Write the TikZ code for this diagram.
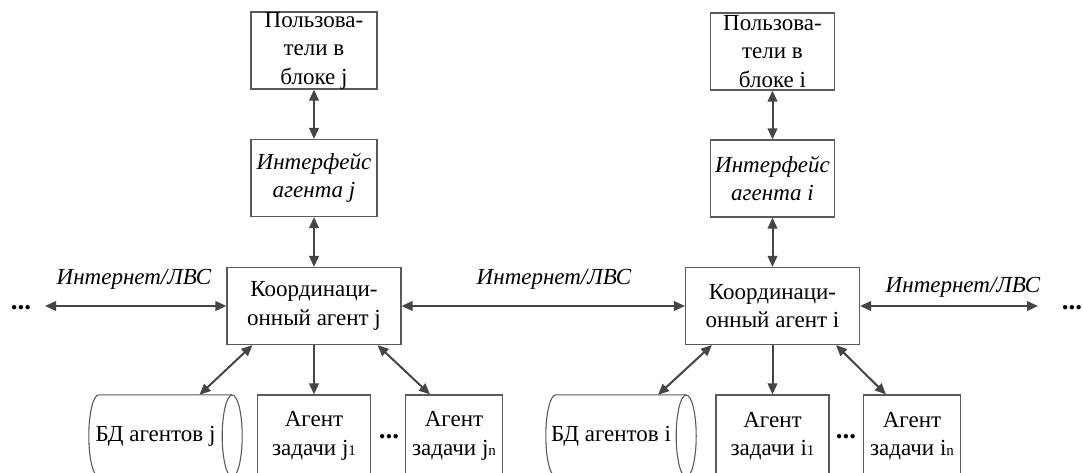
\documentclass[tikz,border=0pt]{standalone}
\usepackage{fontspec}
\setmainfont{Liberation Serif}
\usetikzlibrary{arrows.meta}
\definecolor{ln}{HTML}{454545}
\definecolor{bx}{HTML}{5A5A5A}
\tikzset{
  txt/.style={font=\fontsize{23}{28.5}\selectfont, align=center, inner sep=0pt},
  boxnode/.style={txt, draw=bx, line width=1.1pt, minimum height=77pt},
  dbnode/.style={txt, minimum height=82pt},
  dbline/.style={draw=bx, line width=1.1pt},
  link/.style={draw=ln, line width=2pt, {Triangle[length=11pt,width=9.5pt]}-{Triangle[length=11pt,width=9.5pt]}},
  onelink/.style={draw=ln, line width=2pt, -{Triangle[length=11pt,width=9.5pt]}},
  netlabel/.style={font=\fontsize{23}{28.5}\selectfont\itshape, inner sep=0pt},
  dotsnode/.style={font=\fontsize{27}{28.5}\selectfont\bfseries, inner sep=0pt}
}
\newcommand{\sm}[1]{{\fontsize{15}{15}\selectfont #1}}
\begin{document}
\begin{tikzpicture}[x=1pt,y=-1pt]
\useasboundingbox (0,0) rectangle (1083,472);
% --- block j ---
\node[boxnode, minimum width=126pt] (uj) at (314,50.5) {Пользова-\\тели в\\блоке j};
\node[boxnode, minimum width=126pt, font=\fontsize{23}{28.5}\selectfont\itshape] (ifj) at (314,178) {Интерфейс\\агента j};
\node[boxnode, minimum width=174pt] (cj) at (314,306) {Координаци-\\онный агент j};
\node[dbnode, minimum width=133pt] (dbj) at (155.5,436) {БД агентов j};
\node[boxnode, minimum width=113pt, minimum height=82pt] (tj1) at (314,436) {Агент\\задачи j\sm{1}};
\node[boxnode, minimum width=97pt, minimum height=82pt] (tjn) at (454,436) {Агент\\задачи j\sm{n}};
\node[dotsnode] (dj) at (389,437) {...};
% --- block i ---
\node[boxnode, minimum width=124pt] (ui) at (772.5,51.5) {Пользова-\\тели в\\блоке i};
\node[boxnode, minimum width=124pt, font=\fontsize{23}{28.5}\selectfont\itshape] (ifi) at (772.5,178.5) {Интерфейс\\агента i};
\node[boxnode, minimum width=174pt] (ci) at (772.5,306) {Координаци-\\онный агент i};
\node[dbnode, minimum width=130pt] (dbi) at (611,436) {БД агентов i};
\node[boxnode, minimum width=113pt, minimum height=82pt] (ti1) at (772.5,436) {Агент\\задачи i\sm{1}};
\node[boxnode, minimum width=97pt, minimum height=82pt] (tin) at (912,436) {Агент\\задачи i\sm{n}};
\node[dotsnode] (di) at (846,437) {...};
% --- cylinders ---
\foreach \n in {dbj,dbi}{
  \draw[dbline] ([xshift=10pt]\n.north east) -- ([xshift=10pt]\n.north west)
     arc[start angle=90, end angle=270, x radius=10pt, y radius=41pt]
     -- ([xshift=10pt]\n.south east);
  \draw[dbline] ([xshift=10pt]\n.east) ellipse [x radius=10pt, y radius=41pt];
}
% --- outer ends ---
\coordinate (lend) at (45,306);
\coordinate (rend) at (1038,306);
\node[dotsnode] (dl) at (21,308) {...};
\node[dotsnode] (dr) at (1072,308) {...};
% --- labels ---
\node[netlabel] (nl) at (134,279) {Интернет/ЛВС};
\node[netlabel] (nm) at (554,279) {Интернет/ЛВС};
\node[netlabel] (nr) at (963,287) {Интернет/ЛВС};
% --- connectors ---
\draw[link] (uj) -- (ifj);
\draw[link] (ui) -- (ifi);
\draw[link] (ifj) -- (cj);
\draw[link] (ifi) -- (ci);
\draw[link] (lend) -- (cj.west);
\draw[link] (cj.east) -- (ci.west);
\draw[link] (ci.east) -- (rend);
\draw[onelink] (cj.south) -- (tj1.north);
\draw[onelink] (ci.south) -- (ti1.north);
\draw[link] ([xshift=26pt]cj.south west) -- ([xshift=44pt]dbj.north);
\draw[link] ([xshift=-24pt]cj.south east) -- ([xshift=25pt]tjn.north west);
\draw[link] ([xshift=27pt]ci.south west) -- ([xshift=47pt]dbi.north);
\draw[link] ([xshift=-24pt]ci.south east) -- ([xshift=23pt]tin.north west);
\end{tikzpicture}
\end{document}
